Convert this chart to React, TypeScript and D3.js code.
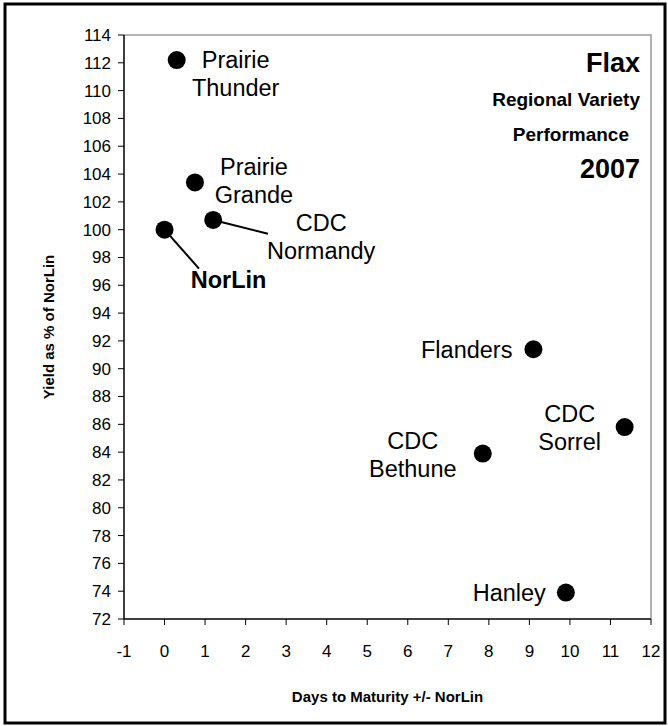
import * as d3 from "d3";

const W = 668;
const H = 726;
const MARGIN = { top: 35, right: 17, bottom: 107, left: 124 };

// varieties: days to maturity vs NorLin, yield as % of NorLin
const names = ["Prairie Thunder", "Prairie Grande", "CDC Normandy", "NorLin", "Flanders", "CDC Sorrel", "CDC Bethune", "Hanley"];
const days = [0.3, 0.75, 1.2, 0, 9.1, 11.35, 7.85, 9.9];
const yields = [112.2, 103.4, 100.7, 100, 91.4, 85.8, 83.9, 73.9];

// label lines and where they sit relative to the dot (px)
const labelLines = [["Prairie", "Thunder"], ["Prairie", "Grande"], ["CDC", "Normandy"], ["NorLin"], ["Flanders"], ["CDC", "Sorrel"], ["CDC", "Bethune"], ["Hanley"]];
const labelDx = [59, 59, 108, 64, -21, -55, -70, -20];
const labelDy = [8, -7, 11, 58, 9, -5, -5, 8];
const labelAnchor = ["middle", "middle", "middle", "middle", "end", "middle", "middle", "end"];

// leader lines: [dot index, end x (days), end y (yield)]
const leaders: [number, number, number][] = [
  [2, 2.55, 99.7],
  [3, 0.85, 97.2],
];

const xTicks = d3.range(-1, 13);
const yTicks = d3.range(72, 115, 2);

export default function App() {
  const bw = W - MARGIN.left - MARGIN.right;
  const bh = H - MARGIN.top - MARGIN.bottom;
  const x = d3.scaleLinear().domain([-1, 12]).range([0, bw]);
  const y = d3.scaleLinear().domain([72, 114]).range([bh, 0]);
  const font = "Arial, 'Liberation Sans', sans-serif";

  return (
    <svg width={W} height={H} style={{ position: "absolute", left: 0, top: 0 }} fontFamily={font}>
      <rect x={0} y={0} width={W} height={H} fill="#fff" />
      <rect x={5} y={4} width={W - 8} height={H - 7} fill="none" stroke="#000" strokeWidth={3} />
      <g transform={`translate(${MARGIN.left},${MARGIN.top})`}>
        {/* plot frame: grey top/right, black axes */}
        <path d={`M0,0H${bw}V${bh}`} fill="none" stroke="#999" strokeWidth={1.5} />
        <line x1={0} x2={0} y1={0} y2={bh} stroke="#000" strokeWidth={1.5} />
        <line x1={0} x2={bw} y1={bh} y2={bh} stroke="#000" strokeWidth={1.5} />

        {yTicks.map((t) => (
          <g key={"y" + t} transform={`translate(0,${y(t)})`}>
            <line x1={-6} x2={0} stroke="#000" />
            <text x={-13} dy="0.35em" textAnchor="end" fontSize={17}>{t}</text>
          </g>
        ))}
        {xTicks.map((t) => (
          <g key={"x" + t} transform={`translate(${x(t)},${bh})`}>
            <line y1={0} y2={6} stroke="#000" />
            <text y={38} textAnchor="middle" fontSize={17}>{t}</text>
          </g>
        ))}

        {leaders.map(([i, ex, ey]) => (
          <line key={"l" + i} x1={x(days[i])} y1={y(yields[i])} x2={x(ex)} y2={y(ey)} stroke="#000" strokeWidth={2} />
        ))}

        {names.map((n, i) => (
          <circle key={n} cx={x(days[i])} cy={y(yields[i])} r={9} fill="#000" />
        ))}

        {names.map((n, i) => (
          <text
            key={"t" + n}
            x={x(days[i]) + labelDx[i]}
            y={y(yields[i]) + labelDy[i]}
            textAnchor={labelAnchor[i]}
            fontSize={23.5}
            fontWeight={n === "NorLin" ? "bold" : "normal"}
          >
            {labelLines[i].map((s, k) => (
              <tspan key={k} x={x(days[i]) + labelDx[i]} dy={k === 0 ? 0 : 28}>{s}</tspan>
            ))}
          </text>
        ))}

        {/* title block */}
        <g textAnchor="end" fontWeight="bold">
          <text x={bw - 11} y={37} fontSize={27}>Flax</text>
          <text x={bw - 11} y={71} fontSize={19}>Regional Variety</text>
          <text x={bw - 22} y={106} fontSize={19}>Performance</text>
          <text x={bw - 11} y={143} fontSize={27}>2007</text>
        </g>

        <text x={bw / 2} y={bh + 83} textAnchor="middle" fontSize={15} fontWeight="bold">
          Days to Maturity +/- NorLin
        </text>
        <text
          transform={`translate(${-70},${bh / 2}) rotate(-90)`}
          textAnchor="middle"
          fontSize={15}
          fontWeight="bold"
        >
          Yield as % of NorLin
        </text>
      </g>
    </svg>
  );
}
